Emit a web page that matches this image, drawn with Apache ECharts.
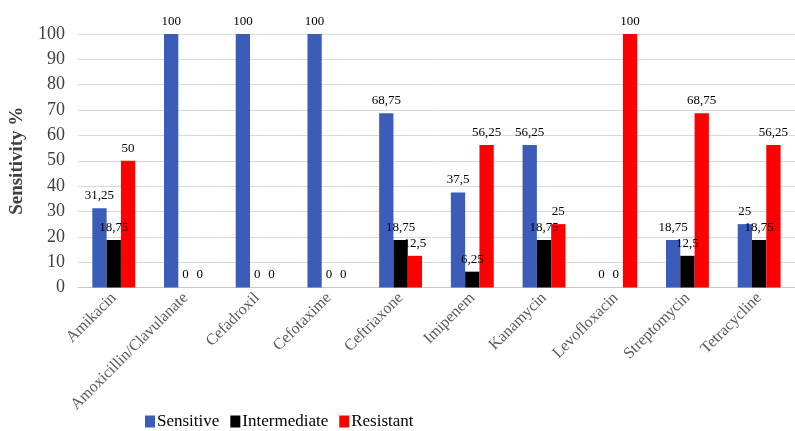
<!DOCTYPE html>
<html>
<head>
<meta charset="utf-8">
<script src="https://cdn.jsdelivr.net/npm/echarts@6/dist/echarts.min.js"></script>
<style>
html,body{margin:0;padding:0;background:#fff;}
#chart{width:795px;height:431px;}
</style>
</head>
<body>
<div id="chart"></div>
<script>
var categories = ["Amikacin","Amoxicillin/Clavulanate","Cefadroxil","Cefotaxime","Ceftriaxone","Imipenem","Kanamycin","Levofloxacin","Streptomycin","Tetracycline"];
var sensitive = [31.25, 100, 100, 100, 68.75, 37.5, 56.25, 0, 18.75, 25];
var intermediate = [18.75, 0, 0, 0, 18.75, 6.25, 18.75, 0, 12.5, 18.75];
var resistant = [50, 0, 0, 0, 12.5, 56.25, 25, 100, 68.75, 56.25];
var yTicks = [0, 10, 20, 30, 40, 50, 60, 70, 80, 90, 100];

var font = "Liberation Serif";
function lbl(){
  return {
    show: true, position: 'top', distance: 6,
    fontFamily: font, fontSize: 13, color: '#000',
    formatter: function(p){ return String(p.value).replace('.', ','); }
  };
}
var chart = echarts.init(document.getElementById('chart'));
chart.setOption({
  animation: false,
  backgroundColor: '#fff',
  grid: {left: 77, right: -7, top: 34, bottom: 143.5, containLabel: false},
  legend: {
    top: 408, left: 140,
    itemWidth: 10, itemHeight: 12, itemGap: 11,
    icon: 'rect',
    textStyle: {fontFamily: font, fontSize: 17, color: '#000', padding: [0,0,0,-3]},
    data: ['Sensitive','Intermediate','Resistant']
  },
  xAxis: {
    type: 'category', data: categories,
    axisTick: {show: false},
    axisLine: {lineStyle: {color: '#c8c8c8'}},
    axisLabel: {rotate: 45, interval: 0, margin: 8, fontFamily: font, fontSize: 16, color: '#595959'}
  },
  yAxis: {
    type: 'value', min: yTicks[0], max: yTicks[yTicks.length-1], interval: 10,
    name: 'Sensitivity %', nameLocation: 'middle', nameGap: 48, nameRotate: 90,
    nameTextStyle: {fontFamily: font, fontSize: 19, fontWeight: 'bold', color: '#404040'},
    axisLine: {show: false}, axisTick: {show: false},
    axisLabel: {fontFamily: font, fontSize: 18, color: '#404040', margin: 13},
    splitLine: {lineStyle: {color: '#d9d9d9'}}
  },
  series: [
    {name: 'Sensitive', type: 'bar', data: sensitive, barWidth: 14.3, barGap: '0%', itemStyle: {color: '#3B5CB9'}, label: lbl()},
    {name: 'Intermediate', type: 'bar', data: intermediate, barWidth: 14.3, barGap: '0%', itemStyle: {color: '#000000'}, label: lbl()},
    {name: 'Resistant', type: 'bar', data: resistant, barWidth: 14.3, barGap: '0%', itemStyle: {color: '#FF0000'}, label: lbl()}
  ]
});
</script>
</body>
</html>
